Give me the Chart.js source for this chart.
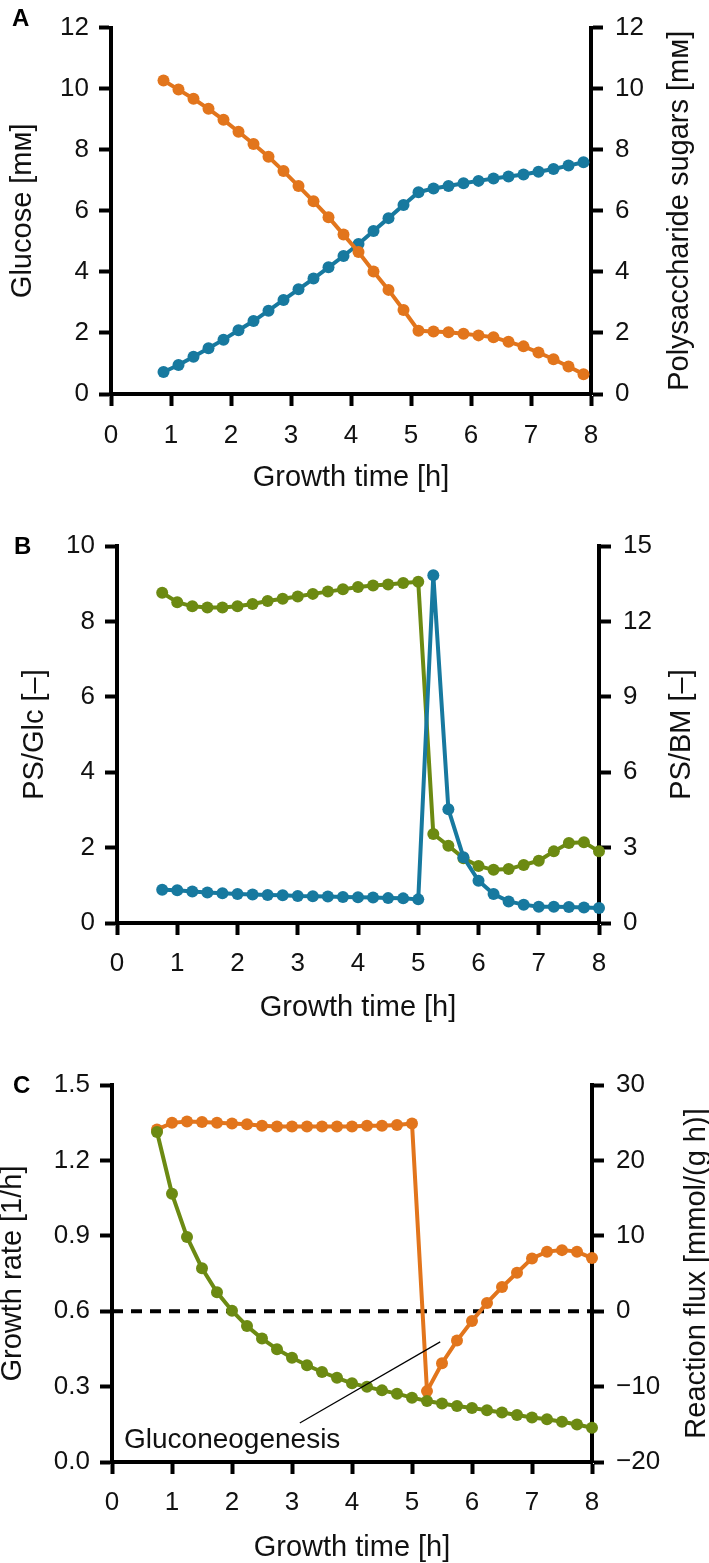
<!DOCTYPE html>
<html lang="en">
<head>
<meta charset="UTF-8">
<title>Glucose, polysaccharide and growth rate over time</title>
<script src="https://cdn.jsdelivr.net/npm/chart.js"></script>
<style>
  html, body { margin: 0; padding: 0; background: #fff; overflow: hidden; }
  body { width: 709px; height: 1563px; position: relative; font-family: "Liberation Sans", Arial, sans-serif; }
  canvas { position: absolute; left: 0; }
  .lbl { position: absolute; font-weight: bold; font-size: 24px; line-height: 24px; color: #000; z-index: 2; }
</style>
</head>
<body>
<canvas id="chartA" width="709" height="505" style="top:0"></canvas>
<canvas id="chartB" width="709" height="530" style="top:505px"></canvas>
<canvas id="chartC" width="709" height="532" style="top:1035px"></canvas>
<div class="lbl" style="left:12px;top:6px">A</div>
<div class="lbl" style="left:14px;top:534px">B</div>
<div class="lbl" style="left:13px;top:1073px">C</div>

<script>
// ---- data ----
const timeA = [0.875, 1.125, 1.375, 1.625, 1.875, 2.125, 2.375, 2.625, 2.875, 3.125,
  3.375, 3.625, 3.875, 4.125, 4.375, 4.625, 4.875, 5.125, 5.375, 5.625,
  5.875, 6.125, 6.375, 6.625, 6.875, 7.125, 7.375, 7.625, 7.875];
const glucose = [10.27, 9.97, 9.67, 9.34, 8.98, 8.59, 8.19, 7.77, 7.30, 6.81,
  6.31, 5.79, 5.22, 4.65, 4.01, 3.41, 2.75, 2.07, 2.05, 2.02,
  1.97, 1.92, 1.86, 1.71, 1.56, 1.36, 1.14, 0.90, 0.65];
const psSugars = [0.72, 0.95, 1.22, 1.50, 1.78, 2.09, 2.39, 2.73, 3.08, 3.43,
  3.78, 4.15, 4.52, 4.91, 5.34, 5.76, 6.19, 6.61, 6.73, 6.81,
  6.90, 6.98, 7.06, 7.12, 7.19, 7.28, 7.37, 7.48, 7.59];

const timeBC = [0.75, 1, 1.25, 1.5, 1.75, 2, 2.25, 2.5, 2.75, 3,
  3.25, 3.5, 3.75, 4, 4.25, 4.5, 4.75, 5, 5.25, 5.5,
  5.75, 6, 6.25, 6.5, 6.75, 7, 7.25, 7.5, 7.75, 8];
const psGlc = [8.76, 8.51, 8.40, 8.37, 8.37, 8.40, 8.46, 8.54, 8.60, 8.66,
  8.73, 8.79, 8.85, 8.91, 8.95, 8.98, 9.02, 9.05, 2.36, 2.05,
  1.72, 1.51, 1.41, 1.43, 1.54, 1.65, 1.90, 2.12, 2.14, 1.90];
const psBM = [1.32, 1.30, 1.25, 1.21, 1.18, 1.15, 1.13, 1.11, 1.10, 1.07,
  1.06, 1.05, 1.03, 1.02, 1.01, 0.99, 0.98, 0.94, 13.84, 4.53,
  2.62, 1.68, 1.15, 0.86, 0.73, 0.65, 0.65, 0.64, 0.62, 0.60];

const growthRate = [1.313, 1.067, 0.895, 0.771, 0.675, 0.602, 0.541, 0.491, 0.449, 0.415,
  0.385, 0.358, 0.335, 0.313, 0.299, 0.285, 0.272, 0.256, 0.243, 0.233,
  0.223, 0.215, 0.206, 0.197, 0.187, 0.177, 0.170, 0.160, 0.149, 0.136];
const flux = [24.1, 24.98, 25.17, 25.1, 25.0, 24.9, 24.8, 24.6, 24.5, 24.5,
  24.5, 24.5, 24.5, 24.5, 24.6, 24.6, 24.7, 24.9, -10.6, -6.9,
  -3.9, -1.3, 1.1, 3.2, 5.1, 7.0, 7.9, 8.1, 7.9, 7.05];

const zeroLineX = [0, 8];
const zeroLineY = [0, 0];
const pointerX = [3.13, 5.47];
const pointerY = [0.155, 0.478];
const noteText = 'Gluconeogenesis';
const notePos = [0.2, 0.0875];

// ---- styling ----
const ORANGE = '#e2751c';
const BLUE = '#17799f';
const GREEN = '#6c8a12';
const FONT = '"Liberation Sans", Arial, sans-serif';
Chart.defaults.font.family = FONT;
Chart.defaults.color = '#111';

const pts = (xs, ys) => xs.map((x, i) => ({ x, y: ys[i] }));
const minus = v => (v < 0 ? '\u2212' + Math.abs(v) : String(v));

function series(data, color, axis) {
  return {
    data, yAxisID: axis, borderColor: color, backgroundColor: color,
    borderWidth: 4, pointRadius: 6, pointHoverRadius: 6, pointBorderWidth: 0,
    tension: 0, clip: false
  };
}

function axis(pos, min, max, step, size, tickPad, title, titlePad, fmt) {
  const a = {
    type: 'linear', position: pos, min, max,
    afterFit: pos === 'bottom' ? s => { s.height = size; } : s => { s.width = size; },
    border: { display: true, color: '#000', width: 4 },
    grid: { drawOnChartArea: false, drawTicks: true, tickLength: 12, tickWidth: 4, tickColor: '#000' },
    ticks: { stepSize: step, autoSkip: false, font: { size: 26 }, color: '#111', padding: tickPad,
      callback: fmt || (v => String(v)) },
    title: { display: false }
  };
  if (title) {
    a.title = { display: true, text: title, font: { size: 29 }, color: '#111',
      padding: pos === 'bottom' ? { top: 0, bottom: titlePad } : { top: titlePad, bottom: 0 } };
  }
  return a;
}

// right-hand titles read bottom-to-top, like the left ones
const sideTitle = {
  id: 'sideTitle',
  afterDraw(chart, args, o) {
    if (!o.text) return;
    const { ctx, chartArea } = chart;
    ctx.save();
    ctx.translate(o.x, (chartArea.top + chartArea.bottom) / 2);
    ctx.rotate(-Math.PI / 2);
    ctx.font = '29px ' + FONT;
    ctx.fillStyle = '#111';
    ctx.textAlign = 'center';
    ctx.textBaseline = 'middle';
    ctx.fillText(o.text, 0, 0);
    ctx.restore();
  }
};

const note = {
  id: 'note',
  afterDatasetsDraw(chart, args, o) {
    if (!o.text) return;
    const { ctx, scales } = chart;
    ctx.save();
    ctx.font = '28px ' + FONT;
    ctx.fillStyle = '#111';
    ctx.textAlign = 'left';
    ctx.textBaseline = 'middle';
    ctx.fillText(o.text, scales.x.getPixelForValue(o.at[0]), scales.yL.getPixelForValue(o.at[1]));
    ctx.restore();
  }
};

function baseOptions(topPad, scales, extra) {
  return {
    responsive: false, animation: false, devicePixelRatio: 1,
    layout: { padding: { top: topPad, left: 0, right: 0, bottom: 0 } },
    plugins: Object.assign({ legend: { display: false }, tooltip: { enabled: false } }, extra),
    scales
  };
}

// ---- panel A ----
new Chart(document.getElementById('chartA'), {
  type: 'line',
  data: { datasets: [
    series(pts(timeA, glucose), ORANGE, 'yL'),
    series(pts(timeA, psSugars), BLUE, 'yR')
  ] },
  options: baseOptions(18, {
    x: axis('bottom', 0, 8, 1, 111, 14, 'Growth time [h]', 9.6),
    yL: axis('left', 0, 12, 2, 111, 10, 'Glucose [m\u1D0D]', 5.3),
    yR: axis('right', 0, 12, 2, 118, 12, null, 0)
  }, { sideTitle: { text: 'Polysaccharide sugars [m\u1D0D]', x: 680 } }),
  plugins: [sideTitle]
});

// ---- panel B ----
new Chart(document.getElementById('chartB'), {
  type: 'line',
  data: { datasets: [
    series(pts(timeBC, psBM), BLUE, 'yR'),
    series(pts(timeBC, psGlc), GREEN, 'yL')
  ] },
  options: baseOptions(41, {
    x: axis('bottom', 0, 8, 1, 112, 13, 'Growth time [h]', 9.6),
    yL: axis('left', 0, 10, 2, 117, 10, 'PS/Glc [\u2013]', 17.6),
    yR: axis('right', 0, 15, 3, 110, 12, null, 0)
  }, { sideTitle: { text: 'PS/BM [\u2013]', x: 682 } }),
  plugins: [sideTitle]
});

// ---- panel C ----
const pointer = {
  data: pts(pointerX, pointerY), yAxisID: 'yL', borderColor: '#000', borderWidth: 1.2,
  pointRadius: 0, tension: 0, clip: false
};
const zeroLine = {
  data: pts(zeroLineX, zeroLineY), yAxisID: 'yR', borderColor: '#000', borderWidth: 4,
  borderDash: [11, 8], pointRadius: 0, tension: 0, clip: false
};
new Chart(document.getElementById('chartC'), {
  type: 'line',
  data: { datasets: [
    pointer,
    series(pts(timeBC, growthRate), GREEN, 'yL'),
    series(pts(timeBC, flux), ORANGE, 'yR'),
    zeroLine
  ] },
  options: baseOptions(50, {
    x: axis('bottom', 0, 8, 1, 105, 13, 'Growth time [h]', 2),
    yL: axis('left', 0, 1.5, 0.3, 112, 10, 'Growth rate [1/h]', -4, v => v.toFixed(1)),
    yR: axis('right', -20, 30, 10, 117, 12, null, 0, minus)
  }, {
    sideTitle: { text: 'Reaction flux [mmol/(g h)]', x: 697 },
    note: { text: noteText, at: notePos }
  }),
  plugins: [sideTitle, note]
});
</script>
</body>
</html>
